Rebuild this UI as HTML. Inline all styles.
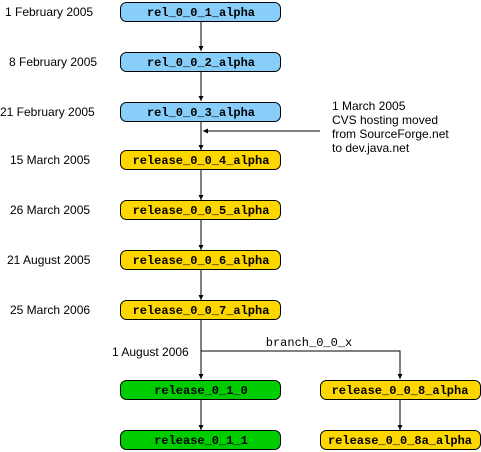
<!DOCTYPE html>
<html><head><style>body{margin:0;background:#fff}</style></head><body>
<svg width="481" height="452" xmlns="http://www.w3.org/2000/svg" style="display:block">
<defs><marker id="a" markerWidth="6" markerHeight="6" refX="5" refY="3" orient="auto"><path d="M0,0.5 L5,3 L0,5.5z" fill="#000"/></marker></defs>
<g stroke="#000" stroke-width="1" fill="none">
<line x1="201" y1="22" x2="201" y2="51" marker-end="url(#a)"/>
<line x1="201" y1="72" x2="201" y2="101" marker-end="url(#a)"/>
<line x1="201" y1="122" x2="201" y2="150" marker-end="url(#a)"/>
<line x1="201" y1="170" x2="201" y2="200" marker-end="url(#a)"/>
<line x1="201" y1="220" x2="201" y2="250" marker-end="url(#a)"/>
<line x1="201" y1="270" x2="201" y2="300" marker-end="url(#a)"/>
<line x1="201" y1="320" x2="201" y2="379" marker-end="url(#a)"/>
<line x1="201" y1="399" x2="201" y2="430" marker-end="url(#a)"/>
<polyline points="201,351 400,351 400,379" marker-end="url(#a)"/>
<line x1="400" y1="399" x2="400" y2="430" marker-end="url(#a)"/>
<line x1="320" y1="131" x2="203" y2="131" marker-end="url(#a)"/>
</g>
<g stroke="#000" stroke-width="1">
<rect x="120.5" y="2.5" width="160" height="19" rx="6" fill="#87cefa"/>
<rect x="120.5" y="52.5" width="160" height="19" rx="6" fill="#87cefa"/>
<rect x="120.5" y="102.5" width="160" height="19" rx="6" fill="#87cefa"/>
<rect x="120.5" y="150.5" width="160" height="19" rx="6" fill="#ffd700"/>
<rect x="120.5" y="200.5" width="160" height="19" rx="6" fill="#ffd700"/>
<rect x="120.5" y="250.5" width="160" height="19" rx="6" fill="#ffd700"/>
<rect x="120.5" y="300.5" width="160" height="19" rx="6" fill="#ffd700"/>
<rect x="120.5" y="380.5" width="160" height="19" rx="6" fill="#00cd00"/>
<rect x="120.5" y="430.5" width="160" height="19" rx="6" fill="#00cd00"/>
<rect x="320.5" y="380.5" width="160" height="19" rx="6" fill="#ffd700"/>
<rect x="320.5" y="430.5" width="160" height="19" rx="6" fill="#ffd700"/>
</g>
<g font-family="Liberation Mono, monospace" font-size="12" font-weight="bold" text-anchor="middle">
<text x="201" y="16">rel_0_0_1_alpha</text>
<text x="201" y="66">rel_0_0_2_alpha</text>
<text x="201" y="116">rel_0_0_3_alpha</text>
<text x="201" y="164">release_0_0_4_alpha</text>
<text x="201" y="214">release_0_0_5_alpha</text>
<text x="201" y="264">release_0_0_6_alpha</text>
<text x="201" y="314">release_0_0_7_alpha</text>
<text x="201" y="394">release_0_1_0</text>
<text x="201" y="444">release_0_1_1</text>
<text x="400" y="394">release_0_0_8_alpha</text>
<text x="400" y="444">release_0_0_8a_alpha</text>
<text x="309" y="346" font-weight="normal">branch_0_0_x</text>
</g>
<g font-family="Liberation Sans, sans-serif" font-size="12">
<text x="5" y="16">1 February 2005</text>
<text x="9" y="66">8 February 2005</text>
<text x="0" y="116">21 February 2005</text>
<text x="10" y="164">15 March 2005</text>
<text x="10" y="214">26 March 2005</text>
<text x="7" y="264">21 August 2005</text>
<text x="10" y="314">25 March 2006</text>
<text x="112" y="356">1 August 2006</text>
<text x="332" y="110">1 March 2005</text>
<text x="332" y="124">CVS hosting moved</text>
<text x="332" y="138">from SourceForge.net</text>
<text x="332" y="152">to dev.java.net</text>
</g>
</svg>
</body></html>
